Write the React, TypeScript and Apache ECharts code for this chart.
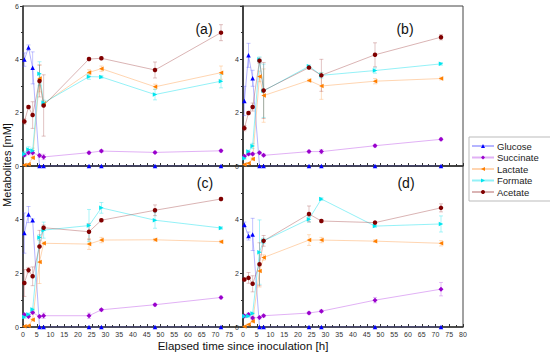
import React, { useEffect, useRef } from "react";
import * as echarts from "echarts";

const times = [0.5, 2, 3.5, 6, 7.5, 24, 28.5, 48, 72];
const seriesNames = ["Glucose", "Succinate", "Lactate", "Formate", "Acetate"];
const panelLabels = ["(a)", "(b)", "(c)", "(d)"];
const xTicks = [0, 80, 5];
const yTicks = [0, 6, 2];

// Panel (a)
const glucoseA = [3.99, 4.44, 3.68, 0, 0, 0, 0, 0, 0];
const succinateA = [0.41, 0.5, 0.5, 0.39, 0.34, 0.5, 0.56, 0.51, 0.57];
const lactateA = [0.04, 0.07, 0.31, 3.28, 2.34, 3.51, 3.65, 2.97, 3.5];
const formateA = [0.45, 0.62, 0.57, 3.46, 2.37, 3.35, 3.34, 2.68, 3.18];
const acetateA = [1.67, 2.21, 1.91, 3.19, 2.27, 4.01, 4.04, 3.6, 5.0];
const glucoseAErr = [0.25, 0.1, 0.6, 0, 0, 0, 0, 0, 0];
const succinateAErr = [0.05, 0.08, 0.08, 0.06, 0.1, 0.05, 0.05, 0.04, 0.05];
const lactateAErr = [0.02, 0.03, 0.05, 0.5, 0.1, 0.1, 0.1, 0.1, 0.25];
const formateAErr = [0.1, 0.1, 0.1, 0.45, 0.1, 0.1, 0.05, 0.2, 0.25];
const acetateAErr = [0.1, 0.05, 0.5, 0.6, 1.15, 0.05, 0.05, 0.3, 0.3];

// Panel (b)
const glucoseB = [2.44, 4.15, 3.29, 0, 0, 0, 0, 0, 0];
const succinateB = [0.37, 0.45, 0.45, 0.5, 0.4, 0.54, 0.54, 0.76, 1.0];
const lactateB = [0.06, 0.1, 0.26, 3.36, 2.64, 3.21, 3.0, 3.18, 3.28];
const formateB = [0.29, 0.54, 0.75, 3.99, 2.82, 3.74, 3.4, 3.58, 3.83];
const acetateB = [1.42, 1.99, 2.21, 3.95, 2.83, 3.69, 3.4, 4.17, 4.83];
const glucoseBErr = [0.55, 0.45, 0.3, 0, 0, 0, 0, 0, 0];
const succinateBErr = [0.05, 0.05, 0.05, 0.05, 0.05, 0.05, 0.08, 0.05, 0.05];
const lactateBErr = [0.02, 0.03, 0.05, 0.2, 1.0, 0.05, 0.5, 0.1, 0.05];
const formateBErr = [0.05, 0.05, 0.1, 0.1, 1.0, 0.05, 0.1, 0.1, 0.05];
const acetateBErr = [0.1, 0.05, 0.15, 0.1, 1.05, 0.05, 0.6, 0.45, 0.1];

// Panel (c)
const glucoseC = [3.5, 4.19, 3.98, 0, 0, 0, 0, 0, 0];
const succinateC = [0.46, 0.39, 0.54, 0.39, 0.42, 0.42, 0.64, 0.83, 1.1];
const lactateC = [0.03, 0.05, 0.27, 2.42, 3.12, 3.09, 3.24, 3.25, 3.18];
const formateC = [0.37, 0.47, 0.65, 3.34, 3.61, 3.78, 4.44, 3.98, 3.69];
const acetateC = [1.64, 2.12, 1.89, 3.0, 3.7, 3.55, 3.98, 4.35, 4.77];
const glucoseCErr = [0.75, 0.3, 0.05, 0, 0, 0, 0, 0, 0];
const succinateCErr = [0.05, 0.05, 0.05, 0.05, 0.1, 0.1, 0.05, 0.05, 0.05];
const lactateCErr = [0.02, 0.03, 0.05, 0.8, 0.05, 0.2, 0.1, 0.05, 0.05];
const formateCErr = [0.05, 0.05, 0.05, 0.1, 0.3, 0.6, 0.2, 0.3, 0.05];
const acetateCErr = [0.5, 0.1, 0.35, 0.6, 0.1, 0.3, 0.05, 0.2, 0.05];

// Panel (d)
const glucoseD = [3.81, 3.39, 3.45, 0, 0, 0, 0, 0, 0];
const succinateD = [0.41, 0.47, 0.34, 0.35, 0.42, 0.52, 0.59, 1.0, 1.41];
const lactateD = [0.02, 0.09, 0.21, 2.09, 2.59, 3.24, 3.24, 3.2, 3.12];
const formateD = [0.4, 0.41, 0.5, 2.79, 3.21, 4.02, 4.77, 3.76, 3.84];
const acetateD = [1.77, 1.83, 1.61, 2.34, 3.21, 4.21, 3.95, 3.89, 4.44];
const glucoseDErr = [0.1, 0.15, 0.6, 0, 0, 0, 0, 0, 0];
const succinateDErr = [0.05, 0.05, 0.05, 0.05, 0.05, 0.05, 0.05, 0.1, 0.25];
const lactateDErr = [0.02, 0.03, 0.05, 0.6, 0.1, 0.2, 0.1, 0.05, 0.1];
const formateDErr = [0.05, 0.05, 0.05, 1.2, 0.1, 0.1, 0.05, 0.05, 0.3];
const acetateDErr = [0.05, 0.2, 0.3, 0.8, 0.2, 0.3, 0.05, 0.05, 0.15];

const panels = [
  [glucoseA, succinateA, lactateA, formateA, acetateA],
  [glucoseB, succinateB, lactateB, formateB, acetateB],
  [glucoseC, succinateC, lactateC, formateC, acetateC],
  [glucoseD, succinateD, lactateD, formateD, acetateD],
];
const panelErrs = [
  [glucoseAErr, succinateAErr, lactateAErr, formateAErr, acetateAErr],
  [glucoseBErr, succinateBErr, lactateBErr, formateBErr, acetateBErr],
  [glucoseCErr, succinateCErr, lactateCErr, formateCErr, acetateCErr],
  [glucoseDErr, succinateDErr, lactateDErr, formateDErr, acetateDErr],
];

const colors = ["#0000ff", "#9900cc", "#ff7f00", "#00e5ee", "#800000"];
const lineColors = [
  "rgba(70,70,255,0.4)",
  "rgba(180,60,230,0.4)",
  "rgba(255,150,60,0.4)",
  "rgba(60,230,240,0.55)",
  "rgba(150,40,40,0.35)",
];
const symbols = ["triangle", "diamond", "triangle", "triangle", "circle"];
const symbolRotates = [0, 0, 90, -90, 0];
const symbolSizes = [4.5, 5, 4.5, 4.5, 4.5];

const FONT = "'Liberation Sans', Arial, sans-serif";

export default function App() {
  const ref = useRef<HTMLDivElement>(null);
  useEffect(() => {
    const chart = echarts.init(ref.current!, null, { renderer: "svg" });
    const grids = [
      { left: 23, top: 6, width: 220, height: 160 },
      { left: 243, top: 6, width: 220, height: 160 },
      { left: 23, top: 166, width: 220, height: 161 },
      { left: 243, top: 166, width: 220, height: 161 },
    ].map((g) => ({ ...g, show: true, borderColor: "#444", borderWidth: 1, backgroundColor: "transparent" }));

    const xAxis = grids.map((_, i) => ({
      type: "value",
      gridIndex: i,
      min: xTicks[0],
      max: xTicks[1],
      interval: xTicks[2],
      axisLine: { show: true, lineStyle: { color: "#333", width: 1.5 } },
      axisTick: { show: true, inside: true, length: 3, lineStyle: { color: "#333" } },
      minorTick: { show: true, splitNumber: 2, length: 2, lineStyle: { color: "#333" } },
      splitLine: { show: false },
      axisLabel: {
        show: i >= 2,
        fontSize: 7,
        color: "#333",
        fontFamily: FONT,
        margin: 4,
        showMaxLabel: i === 3,
      },
    }));
    const yAxis = grids.map((_, i) => ({
      type: "value",
      gridIndex: i,
      min: yTicks[0],
      max: yTicks[1],
      interval: yTicks[2],
      axisLine: { show: true, lineStyle: { color: "#333", width: 1.5 } },
      axisTick: { show: true, length: 3, lineStyle: { color: "#333" } },
      minorTick: { show: true, splitNumber: 2, length: 2, lineStyle: { color: "#333" } },
      splitLine: { show: false },
      axisLabel: {
        fontSize: 7,
        color: "#333",
        fontFamily: FONT,
        margin: 4,
        showMaxLabel: i === 0,
      },
    }));

    const series: any[] = [];
    panels.forEach((panel, p) => {
      panel.forEach((vals, s) => {
        const errs = panelErrs[p][s];
        series.push({
          type: "custom",
          name: seriesNames[s] + " error",
          xAxisIndex: p,
          yAxisIndex: p,
          z: 1,
          silent: true,
          data: times.map((t, i) => [t, vals[i], errs[i]]),
          renderItem: (params: any, api: any) => {
            const x = api.value(0);
            const y = api.value(1);
            const e = api.value(2);
            if (!e) return { type: "group", children: [] };
            const top = api.coord([x, y + e]);
            const bot = api.coord([x, y - e]);
            const w = 2;
            const style = { stroke: lineColors[s], lineWidth: 0.8 };
            return {
              type: "group",
              children: [
                { type: "line", shape: { x1: top[0], y1: top[1], x2: bot[0], y2: bot[1] }, style },
                { type: "line", shape: { x1: top[0] - w, y1: top[1], x2: top[0] + w, y2: top[1] }, style },
                { type: "line", shape: { x1: bot[0] - w, y1: bot[1], x2: bot[0] + w, y2: bot[1] }, style },
              ],
            };
          },
        });
        series.push({
          type: "line",
          name: seriesNames[s],
          xAxisIndex: p,
          yAxisIndex: p,
          z: 2,
          data: times.map((t, i) => [t, vals[i]]),
          symbol: symbols[s],
          symbolSize: symbolSizes[s],
          symbolRotate: symbolRotates[s],
          showAllSymbol: true,
          itemStyle: { color: colors[s] },
          lineStyle: { color: lineColors[s], width: 1 },
        });
      });
    });

    const labelPos = [
      [204, 29],
      [405, 29],
      [205, 183],
      [406, 183],
    ];

    chart.setOption({
      animation: false,
      textStyle: { fontFamily: FONT },
      grid: grids,
      xAxis,
      yAxis,
      series,
      legend: {
        data: seriesNames,
        orient: "vertical",
        left: 469,
        top: 137,
        itemGap: 1.5,
        itemWidth: 22,
        itemHeight: 5,
        padding: [4, 12, 4, 2],
        borderColor: "#bbb",
        borderWidth: 1,
        textStyle: { fontSize: 9.5, color: "#222", fontFamily: FONT, padding: [0, 0, 0, -2] },
      },
      graphic: [
        ...panelLabels.map((t, i) => ({
          type: "text",
          x: labelPos[i][0],
          y: labelPos[i][1],
          style: {
            text: t,
            fontSize: 14,
            fontFamily: FONT,
            fill: "#111",
            textAlign: "center",
            textVerticalAlign: "middle",
          },
        })),
        {
          type: "text",
          x: 7,
          y: 165,
          rotation: Math.PI / 2,
          style: {
            text: "Metabolites [mM]",
            fontSize: 11,
            fontFamily: FONT,
            fill: "#111",
            textAlign: "center",
            textVerticalAlign: "middle",
          },
        },
        {
          type: "text",
          x: 243,
          y: 346,
          style: {
            text: "Elapsed time since inoculation [h]",
            fontSize: 11.5,
            fontFamily: FONT,
            fill: "#111",
            textAlign: "center",
            textVerticalAlign: "middle",
          },
        },
      ],
    });
    return () => chart.dispose();
  }, []);
  return (
    <div
      ref={ref}
      style={{ position: "fixed", left: 0, top: 0, width: 550, height: 357, background: "#fff" }}
    />
  );
}
